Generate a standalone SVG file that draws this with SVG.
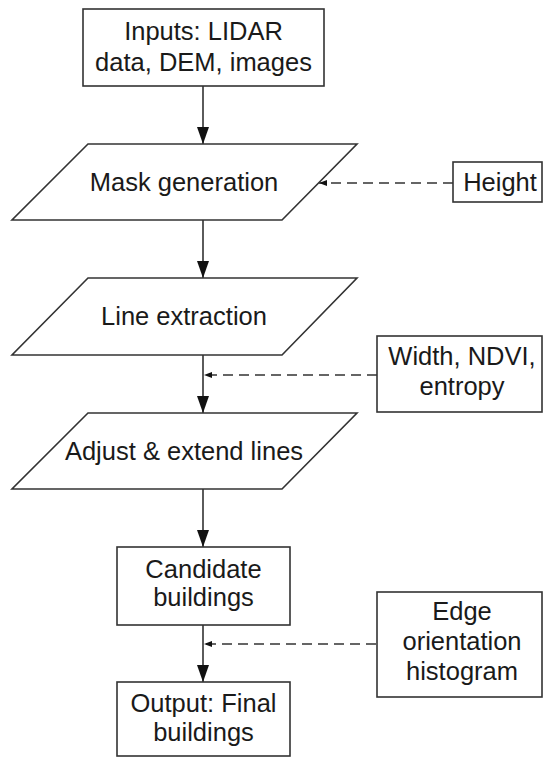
<svg xmlns="http://www.w3.org/2000/svg" width="545" height="758" viewBox="0 0 545 758">
<style>
.shape{fill:#fff;stroke:#333;stroke-width:1.6}
.lbl{font-family:"Liberation Sans",Arial,sans-serif;font-size:25.5px;fill:#1a1a1a;text-anchor:middle}
.flow{stroke:#333;stroke-width:1.6;fill:none}
.dash{stroke:#333;stroke-width:1.4;fill:none;stroke-dasharray:10 6}
</style>
<defs>
<marker id="big" viewBox="0 0 17 12" refX="17" refY="6" markerWidth="17" markerHeight="12" markerUnits="userSpaceOnUse" orient="auto">
<path d="M0,0 L17,6 L0,12 Z" fill="#111"/>
</marker>
<marker id="small" viewBox="0 0 8 6" refX="8" refY="3" markerWidth="8" markerHeight="6" markerUnits="userSpaceOnUse" orient="auto">
<path d="M0,0 L8,3 L0,6 Z" fill="#111"/>
</marker>
</defs>
<rect width="545" height="758" fill="#fff"/>
<g id="connectors">
<line class="flow" x1="203" y1="86" x2="203" y2="144" marker-end="url(#big)"/>
<line class="flow" x1="203" y1="220" x2="203" y2="278" marker-end="url(#big)"/>
<line class="flow" x1="203" y1="355" x2="203" y2="413" marker-end="url(#big)"/>
<line class="flow" x1="203" y1="489" x2="203" y2="547" marker-end="url(#big)"/>
<line class="flow" x1="203" y1="625" x2="203" y2="682" marker-end="url(#big)"/>
<line class="dash" x1="453" y1="183" x2="319" y2="183" marker-end="url(#small)"/>
<line class="dash" x1="377" y1="375" x2="204" y2="375" marker-end="url(#small)"/>
<line class="dash" x1="376" y1="644" x2="204" y2="644" marker-end="url(#small)"/>
</g>
<g id="inputs">
<rect class="shape" x="83" y="9" width="241" height="77"/>
<text class="lbl" x="203.5" y="40">Inputs: LIDAR</text>
<text class="lbl" x="203.5" y="71">data, DEM, images</text>
</g>
<g id="mask">
<polygon class="shape" points="88,144 357,144 282,220 12,220"/>
<text class="lbl" x="184" y="191">Mask generation</text>
</g>
<g id="height">
<rect class="shape" x="453" y="162" width="89" height="40"/>
<text class="lbl" x="500" y="191">Height</text>
</g>
<g id="line">
<polygon class="shape" points="88,278 357,278 282,355 12,355"/>
<text class="lbl" x="184" y="325">Line extraction</text>
</g>
<g id="width">
<rect class="shape" x="377" y="336" width="165" height="76"/>
<text class="lbl" x="462" y="365">Width, NDVI,</text>
<text class="lbl" x="462" y="395">entropy</text>
</g>
<g id="adjust">
<polygon class="shape" points="88,413 357,413 282,489 12,489"/>
<text class="lbl" x="184" y="460">Adjust &amp; extend lines</text>
</g>
<g id="candidate">
<rect class="shape" x="117" y="547" width="173" height="78"/>
<text class="lbl" x="203.5" y="578">Candidate</text>
<text class="lbl" x="203.5" y="606">buildings</text>
</g>
<g id="edge">
<rect class="shape" x="377" y="592" width="165" height="105"/>
<text class="lbl" x="462" y="620">Edge</text>
<text class="lbl" x="462" y="650">orientation</text>
<text class="lbl" x="462" y="680">histogram</text>
</g>
<g id="output">
<rect class="shape" x="117" y="682" width="173" height="74"/>
<text class="lbl" x="203.5" y="712">Output: Final</text>
<text class="lbl" x="203.5" y="741">buildings</text>
</g>
</svg>
